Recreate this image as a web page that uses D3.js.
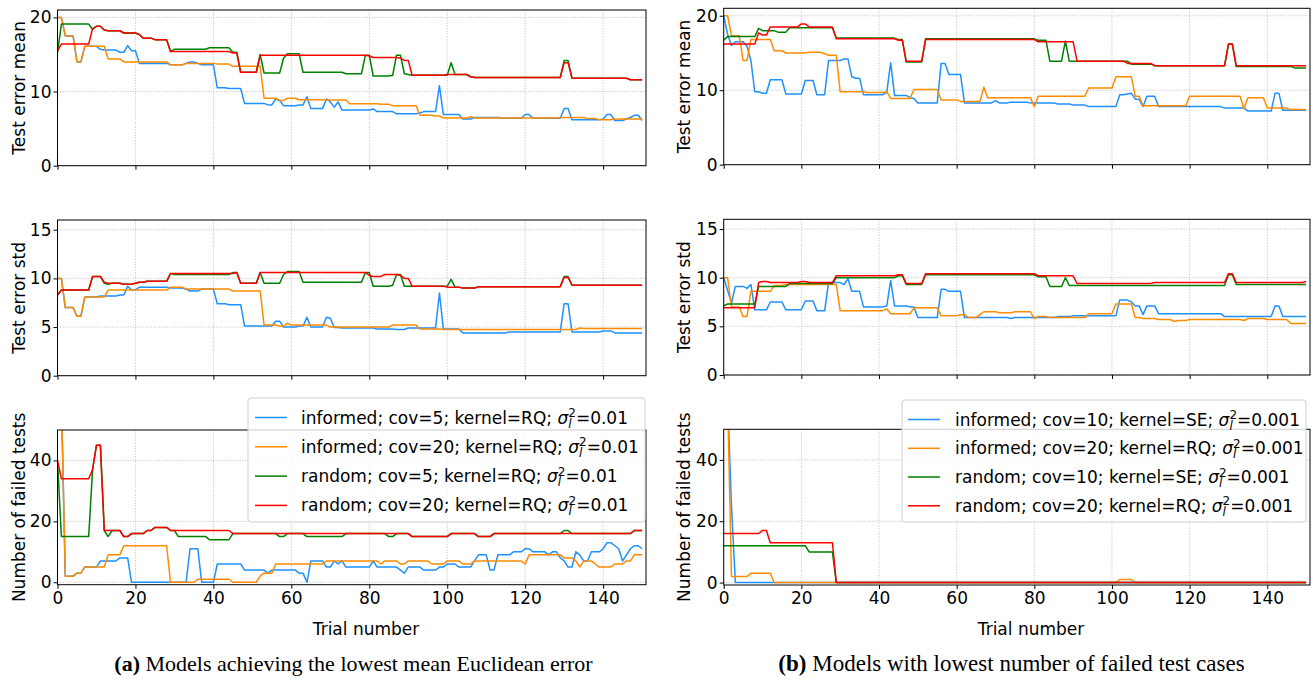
<!DOCTYPE html>
<html>
<head>
<meta charset="utf-8">
<script src="https://cdn.jsdelivr.net/npm/d3@7"></script>
<style>
  html, body { margin: 0; padding: 0; background: #ffffff; }
  svg { display: block; }
</style>
</head>
<body>
<svg id="fig" width="1313" height="681"></svg>
<script>
// ---- shared axes values ----
const xTickValues = [0, 20, 40, 60, 80, 100, 120, 140];
const meanTicks = [0, 10, 20];
const stdTicks = [0, 5, 10, 15];
const failTicks = [0, 20, 40];
const yLabels = ["Test error mean", "Test error std", "Number of failed tests"];

// ---- (a) lowest mean Euclidean error: test error mean per trial ----
const aMeanInf5 = [20,20,17.5,17.5,17.5,14.0,14.0,16.1,16.1,16.1,
16.1,15.7,15.6,15.6,15.6,15.6,15.3,15.3,16.2,15.5,
15.5,13.8,13.8,13.8,13.8,13.8,13.8,13.8,13.8,13.6,
13.6,13.6,13.6,13.8,14.0,14.0,13.8,13.6,13.6,13.6,
13.6,10.5,10.5,10.5,10.4,10.4,10.4,10.4,8.4,8.4,
8.4,8.4,8.4,8.4,8.2,8.2,9.0,8.8,8.1,8.1,
8.1,8.1,8.2,8.2,9.3,7.7,7.7,7.7,7.7,9.0,
8.6,7.9,8.6,7.5,7.5,7.5,7.5,7.5,7.5,7.5,
7.5,7.65,7.3,7.3,7.3,7.3,7.3,7.0,7.0,7.0,
7.0,7.0,7.0,7.1,7.3,7.3,7.3,7.3,10.8,6.9,
6.9,6.9,6.9,6.9,6.3,6.3,6.3,6.5,6.5,6.5,
6.5,6.5,6.5,6.5,6.4,6.4,6.4,6.4,6.4,6.4,
6.9,6.9,6.4,6.4,6.4,6.4,6.4,6.4,6.4,6.4,
7.7,7.7,6.2,6.2,6.2,6.2,6.2,6.2,6.2,6.2,
6.3,6.9,6.9,6.1,6.1,6.1,6.3,6.5,6.8,6.8,
6.1];
const aMeanInf20 = [20,20,17.5,17.5,17.5,14.0,14.0,16.1,16.1,16.1,
16.1,16.1,16.1,14.4,14.4,14.4,14.4,14.0,14.0,14.0,
14.0,14.0,14.0,14.0,14.0,14.0,14.0,14.0,14.0,13.6,
13.6,13.6,13.6,13.8,13.8,13.8,13.8,13.8,13.8,13.8,
13.8,13.7,13.7,13.7,13.7,13.4,13.4,13.4,13.4,13.4,
13.4,13.4,13.4,9.1,9.1,9.1,9.1,8.8,8.8,9.1,
9.1,9.1,8.9,8.9,8.9,8.9,8.9,8.9,8.9,8.9,
8.85,8.85,8.85,8.85,8.85,8.35,8.35,8.35,8.35,8.35,
8.35,8.35,8.35,8.3,8.3,8.3,8.1,8.1,8.1,8.1,
8.1,8.1,8.1,6.8,6.8,6.8,6.8,6.7,6.7,6.45,
6.45,6.45,6.45,6.45,6.45,6.45,6.6,6.45,6.45,6.45,
6.45,6.45,6.45,6.45,6.45,6.45,6.45,6.45,6.45,6.45,
6.45,6.45,6.45,6.45,6.45,6.45,6.45,6.45,6.45,6.5,
6.5,6.5,6.5,6.5,6.5,6.5,6.35,6.35,6.35,6.2,
6.2,6.2,6.2,6.3,6.3,6.3,6.3,6.3,6.3,6.3,
6.3];
const aMeanRand5 = [15.2,19.1,19.1,19.1,19.1,19.1,19.1,19.1,19.1,18.4,
18.8,18.8,18.3,18.2,18.2,18.2,18.2,17.9,17.9,17.9,
17.9,17.7,17.2,17.2,17.2,17.0,17.0,17.0,17.0,15.4,
15.7,15.7,15.7,15.7,15.7,15.7,15.7,15.7,15.7,15.9,
15.9,15.9,15.9,15.9,15.9,15.3,15.3,12.6,12.6,12.6,
12.6,12.6,15.0,12.5,12.5,12.5,12.5,12.5,14.5,15.1,
15.1,15.1,15.1,12.6,12.6,12.6,12.6,12.6,12.6,12.6,
12.6,12.6,12.6,12.6,12.4,12.4,12.4,12.4,12.4,14.9,
14.9,12.1,12.1,12.1,12.1,12.1,12.2,14.9,14.9,12.4,
12.3,12.2,12.2,12.2,12.2,12.2,12.2,12.2,12.2,12.2,
12.2,13.9,12.3,12.3,12.3,12.3,12.0,11.9,11.9,11.9,
11.9,11.9,11.9,11.9,11.9,11.9,11.9,11.9,11.9,11.9,
11.9,11.9,11.9,11.9,11.9,11.9,11.9,11.9,11.9,11.9,
14.2,14.2,11.8,11.8,11.8,11.8,11.8,11.8,11.8,11.8,
11.8,11.8,11.8,11.8,11.8,11.8,11.8,11.6,11.6,11.6,
11.6];
const aMeanRand20 = [15.5,16.4,16.4,16.4,16.4,16.4,16.4,16.4,16.4,18.5,
18.8,18.8,18.3,18.2,18.2,18.2,18.2,17.9,17.9,17.9,
17.9,17.7,17.2,17.2,17.2,17.0,17.0,17.0,17.0,15.4,
15.4,15.4,15.4,15.4,15.4,15.4,15.4,15.4,15.4,15.4,
15.4,15.4,15.4,15.4,15.4,15.2,15.2,12.6,12.6,12.6,
12.6,12.6,14.9,14.9,14.9,14.9,14.9,14.9,14.9,14.9,
14.9,14.9,14.9,14.9,14.9,14.9,14.9,14.9,14.9,14.9,
14.9,14.9,14.9,14.9,14.9,14.9,14.9,14.9,14.9,14.9,
14.8,14.6,14.6,14.6,14.6,14.6,14.6,14.6,14.5,14.2,
14.2,12.2,12.2,12.2,12.2,12.2,12.2,12.2,12.2,12.2,
12.3,12.3,12.3,12.3,12.3,12.3,12.0,11.9,11.9,11.9,
11.9,11.9,11.9,11.9,11.9,11.9,11.9,11.9,11.9,11.9,
11.9,11.9,11.9,11.9,11.9,11.9,11.9,11.9,11.9,11.9,
13.9,13.9,11.8,11.8,11.8,11.8,11.8,11.8,11.8,11.8,
11.8,11.8,11.8,11.8,11.8,11.8,11.8,11.6,11.6,11.6,
11.6];

// ---- (a) test error std per trial ----
const aStdInf5 = [10.0,10.0,7.0,7.0,7.0,6.1,6.1,8.1,8.1,8.1,
8.1,8.2,8.2,8.2,8.2,8.2,8.3,8.3,9.2,8.8,
8.8,9.1,9.1,9.1,9.1,9.1,9.1,9.1,9.1,9.0,
9.0,9.0,9.0,8.9,8.7,8.7,8.7,8.9,8.9,8.9,
8.9,7.4,7.4,7.4,7.3,7.3,7.3,7.3,5.1,5.1,
5.1,5.1,5.1,5.1,5.1,5.1,5.6,5.6,5.0,5.0,
5.0,5.0,5.1,5.1,6.0,5.0,5.0,5.0,5.0,6.0,
5.9,4.95,4.95,4.9,4.9,4.9,4.9,4.9,4.9,4.9,
4.9,4.9,4.8,4.8,4.8,4.8,4.8,4.75,4.75,4.75,
4.9,4.9,4.9,4.9,4.9,4.9,4.9,4.9,8.5,4.8,
4.8,4.8,4.8,4.8,4.4,4.4,4.4,4.4,4.4,4.4,
4.4,4.4,4.4,4.4,4.4,4.4,4.5,4.5,4.5,4.5,
4.5,4.5,4.5,4.5,4.5,4.5,4.5,4.5,4.5,4.5,
7.4,7.4,4.5,4.5,4.5,4.5,4.5,4.5,4.5,4.5,
4.6,4.6,4.6,4.4,4.4,4.4,4.4,4.4,4.4,4.4,
4.4];
const aStdInf20 = [10.0,10.0,7.0,7.0,7.0,6.1,6.1,8.1,8.1,8.1,
8.1,8.1,8.1,8.8,8.8,8.8,8.8,8.8,8.8,8.8,
8.8,8.8,8.8,8.8,8.8,8.8,8.8,8.8,8.8,9.1,
9.1,9.1,9.1,8.9,8.9,8.9,8.9,8.9,8.9,8.9,
8.9,8.9,8.9,8.9,8.9,8.7,8.7,8.7,8.7,8.7,
8.7,8.7,8.7,5.2,5.2,5.2,5.2,5.1,5.1,5.4,
5.2,5.2,5.2,5.2,5.2,5.2,5.2,5.2,5.2,5.2,
5.0,5.0,5.0,5.0,5.0,5.0,5.0,5.0,5.0,5.0,
5.0,5.0,5.0,5.0,5.0,5.0,5.2,5.2,5.2,5.2,
5.2,5.2,5.2,4.8,4.8,4.8,4.8,4.8,4.8,4.75,
4.75,4.75,4.75,4.75,4.75,4.75,4.75,4.75,4.75,4.75,
4.75,4.75,4.75,4.75,4.75,4.75,4.75,4.75,4.75,4.75,
4.75,4.75,4.75,4.75,4.75,4.75,4.75,4.75,4.75,4.75,
4.75,4.75,4.75,4.75,4.9,4.85,4.85,4.85,4.85,4.85,
4.85,4.85,4.85,4.85,4.85,4.85,4.85,4.85,4.85,4.85,
4.85];
const aStdRand5 = [8.3,8.8,8.8,8.8,8.8,8.8,8.8,8.8,8.8,10.2,
10.2,10.2,9.5,9.4,9.5,9.5,9.5,9.4,9.4,9.4,
9.5,9.6,9.6,9.7,9.7,9.7,9.7,9.7,9.7,10.5,
10.4,10.4,10.4,10.4,10.4,10.4,10.4,10.4,10.4,10.4,
10.4,10.4,10.4,10.4,10.4,10.6,10.6,9.5,9.5,9.5,
9.5,9.5,10.6,9.5,9.5,9.5,9.5,9.5,10.4,10.7,
10.7,10.7,10.7,9.6,9.6,9.6,9.6,9.6,9.6,9.6,
9.6,9.6,9.6,9.6,9.6,9.6,9.6,9.6,9.6,10.6,
10.6,9.2,9.2,9.2,9.2,9.2,9.3,10.4,10.4,9.2,
9.2,9.2,9.2,9.2,9.2,9.2,9.2,9.2,9.2,9.2,
9.2,9.9,9.1,9.1,9.0,9.0,9.0,9.0,9.15,9.15,
9.15,9.15,9.15,9.15,9.15,9.15,9.15,9.15,9.15,9.15,
9.15,9.15,9.15,9.15,9.15,9.15,9.15,9.15,9.15,9.15,
10.2,10.2,9.3,9.3,9.3,9.3,9.3,9.3,9.3,9.3,
9.3,9.3,9.3,9.3,9.3,9.3,9.3,9.3,9.3,9.3,
9.3];
const aStdRand20 = [8.3,8.8,8.8,8.8,8.8,8.8,8.8,8.8,8.8,10.2,
10.2,10.2,9.6,9.5,9.5,9.5,9.5,9.4,9.4,9.4,
9.5,9.6,9.6,9.7,9.7,9.7,9.7,9.7,9.7,10.5,
10.5,10.5,10.5,10.5,10.5,10.5,10.5,10.5,10.5,10.5,
10.5,10.5,10.5,10.5,10.5,10.5,10.6,9.5,9.5,9.5,
9.5,9.5,10.6,10.6,10.6,10.6,10.6,10.6,10.6,10.6,
10.6,10.6,10.6,10.6,10.6,10.6,10.6,10.6,10.6,10.6,
10.6,10.6,10.6,10.6,10.6,10.6,10.6,10.6,10.6,10.6,
10.3,10.2,10.2,10.2,10.4,10.4,10.4,10.4,10.3,10.0,
10.0,9.2,9.2,9.2,9.2,9.2,9.2,9.2,9.2,9.2,
9.1,9.1,9.1,9.1,9.0,9.0,9.0,9.0,9.15,9.15,
9.15,9.15,9.15,9.15,9.15,9.15,9.15,9.15,9.15,9.15,
9.15,9.15,9.15,9.15,9.15,9.15,9.15,9.15,9.15,9.15,
10.1,10.1,9.3,9.3,9.3,9.3,9.3,9.3,9.3,9.3,
9.3,9.3,9.3,9.3,9.3,9.3,9.3,9.3,9.3,9.3,
9.3];

// ---- (a) number of failed tests per trial ----
const aFailInf5 = [60,60,2,2,2,3,3,5,5,5,
5,7,7,7,7,7,8,8,8,0,
0,0,0,0,0,0,0,0,0,0,
0,0,0,0,11,11,11,0,0,0,
0,6,6,6,6,6,6,6,4,4,
4,4,4,4,3,4,4,4,4,4,
4,4,3,3,0,7,7,7,7,5,
5,7,6,7,5,5,5,5,5,5,
5,7,5,5,5,5,5,5,4,3,
5,5,5,5,4,4,4,4,5,5,
6,6,6,5,5,5,5,7,9,9,
9,4,4,9,9,9,9,10,10,10,
11,11,10,10,10,10,9,10,10,8,
7,5,5,10,9,7,7,10,10,10,
11,13,13,12,11,7,9,11,12,12,
11];
const aFailInf20 = [60,60,2,2,2,3,3,5,5,5,
5,5,5,9,9,9,9,12,12,12,
12,12,12,12,12,12,12,12,12,0,
0,0,0,0,0,0,1,1,1,1,
1,1,1,1,1,0,0,0,0,0,
0,0,2,3,3,3,6,6,6,6,
6,6,6,6,6,6,6,6,6,7,
7,7,7,7,7,7,7,7,7,7,
7,7,7,6,7,7,7,7,6,6,
7,7,7,7,7,7,6,6,6,6,
7,7,7,7,6,6,6,7,7,7,
7,7,7,7,7,7,7,7,7,7,
6,9,9,9,9,9,9,9,9,9,
8,8,8,7,5,7,7,7,6,5,
5,5,5,6,6,6,7,7,9,9,
9];
const aFailRand5 = [40,15,15,15,15,15,15,15,15,37,
45,45,17,15,17,17,17,15,15,16,
16,16,16,17,17,18,18,18,18,17,
17,15,15,15,15,15,15,15,15,14,
14,14,14,14,14,16,16,16,16,16,
16,16,16,16,16,16,16,15,15,16,
16,16,16,16,15,15,15,15,15,15,
15,15,15,15,16,16,16,16,16,16,
16,16,16,16,16,15,15,16,16,16,
16,15,15,15,15,15,15,15,15,15,
15,16,16,16,16,16,16,16,15,15,
15,15,16,16,16,16,16,16,16,16,
16,16,16,16,16,16,16,16,16,16,
17,17,16,16,16,16,16,16,16,16,
16,16,16,16,16,16,16,16,17,17,
17];
const aFailRand20 = [40,34,34,34,34,34,34,34,34,37,
45,45,17,17,17,17,17,15,15,16,
16,16,16,17,17,18,18,18,18,17,
17,17,17,17,17,17,17,17,17,17,
17,17,17,17,17,16,16,16,16,16,
16,16,16,16,16,16,16,16,16,16,
16,16,16,16,16,16,16,16,16,16,
16,16,16,16,16,16,16,16,16,16,
16,16,16,16,16,16,16,16,16,16,
16,15,15,15,15,15,15,15,15,15,
15,16,16,16,16,16,16,16,15,15,
15,15,16,16,16,16,16,16,16,16,
16,16,16,16,16,16,16,16,16,16,
16,16,16,16,16,16,16,16,16,16,
16,16,16,16,16,16,16,16,17,17,
17];

// ---- (b) lowest number of failed test cases: test error mean ----
const bMeanInf10 = [20,17.5,16.0,16.5,16.5,16.5,15.9,14.0,9.8,9.8,
9.6,9.6,11.4,11.4,11.4,11.4,9.5,9.5,9.5,9.5,
9.5,11.3,11.3,11.3,9.4,9.4,9.4,14.0,14.0,14.0,
14.0,14.2,14.2,11.8,11.6,11.6,9.4,9.4,9.4,9.4,
9.4,9.4,9.7,13.7,9.3,9.3,9.3,9.3,9.0,8.9,
8.3,8.3,8.3,8.3,8.3,8.3,13.6,13.6,12.1,12.1,
12.1,12.1,8.3,8.3,8.3,8.3,8.3,8.3,8.3,8.3,
8.6,8.3,8.3,8.3,8.4,8.4,8.4,8.4,8.4,8.3,
8.3,8.3,8.3,8.3,8.3,8.3,8.15,8.15,8.15,8.15,
8.0,8.0,8.0,8.0,7.8,7.8,7.8,7.8,7.8,7.8,
7.8,7.8,9.4,9.4,9.5,9.6,8.8,8.8,7.8,9.2,
9.2,9.2,7.8,7.8,7.8,7.8,7.8,7.8,7.8,7.8,
7.8,7.8,7.8,7.8,7.8,7.8,7.8,7.8,7.8,7.6,
7.6,7.6,7.6,7.6,7.6,7.2,7.2,7.2,7.2,7.2,
7.2,7.2,9.6,9.6,7.3,7.3,7.3,7.3,7.3,7.3,
7.3];
const bMeanInf20 = [20,20,17.3,17.3,17.3,14.0,14.0,16.8,16.8,16.8,
16.8,16.8,16.8,15.3,15.3,15.3,15.0,15.0,15.0,15.0,
15.0,15.0,15.1,15.1,15.1,15.1,14.9,14.7,14.7,14.7,
9.8,9.8,9.8,9.8,9.8,9.8,9.8,9.7,9.7,9.7,
9.7,9.7,9.8,8.9,8.9,8.9,8.9,8.9,8.9,10.1,
10.1,10.1,10.1,10.1,10.1,10.1,8.7,8.7,8.7,8.7,
8.7,8.5,8.5,8.5,8.5,8.5,8.5,10.4,9.0,9.0,
9.0,9.0,9.0,9.0,9.0,9.0,9.0,9.0,9.0,9.0,
7.8,9.2,9.2,9.2,9.2,9.2,9.2,9.2,9.2,9.2,
9.2,9.2,9.2,9.2,10.3,10.3,10.3,10.3,10.3,10.3,
10.3,11.8,11.8,11.8,11.8,11.8,9.2,9.2,7.9,7.9,
7.9,7.9,7.9,7.9,7.9,7.9,7.9,7.9,7.9,7.9,
9.2,9.2,9.2,9.2,9.2,9.2,9.2,9.2,9.2,9.2,
9.2,9.2,9.2,9.2,7.5,9.0,9.0,9.0,9.0,9.0,
7.6,7.6,7.6,7.6,7.6,7.6,7.4,7.4,7.4,7.4,
7.4];
const bMeanRand10 = [16.7,17.2,17.2,17.2,17.2,17.2,17.2,17.2,17.2,18.3,
18.0,18.0,18.0,18.0,17.8,17.8,17.8,18.4,18.4,18.4,
18.4,18.4,18.4,18.4,18.4,18.4,18.4,18.4,18.4,17.0,
17.0,17.0,17.0,17.0,17.0,17.0,17.0,17.0,17.0,17.0,
17.0,17.0,17.0,17.0,17.0,16.8,16.8,13.8,13.8,13.8,
13.8,13.8,16.9,16.9,16.9,16.9,16.9,16.9,16.9,16.9,
16.9,16.9,16.9,16.9,16.9,16.9,16.9,16.9,16.9,16.9,
16.9,16.9,16.9,16.9,16.9,16.9,16.9,16.9,16.9,16.9,
16.9,16.7,16.7,16.7,13.9,13.9,13.9,13.9,16.6,13.9,
13.9,13.9,13.9,13.9,13.9,13.9,13.9,13.9,13.9,13.9,
13.9,13.9,13.9,13.9,13.9,13.5,13.5,13.5,13.5,13.5,
13.5,13.3,13.3,13.3,13.3,13.3,13.3,13.3,13.3,13.3,
13.3,13.3,13.3,13.3,13.3,13.3,13.3,13.3,13.3,13.3,
16.2,16.2,13.2,13.2,13.2,13.2,13.2,13.2,13.2,13.2,
13.2,13.2,13.2,13.2,13.2,13.2,13.2,13.0,13.0,13.0,
13.0];
const bMeanRand20 = [16.2,16.2,16.2,16.2,16.2,16.2,16.2,16.2,16.2,17.7,
17.4,17.4,18.5,18.5,18.5,18.5,18.5,18.5,18.5,18.5,
18.9,18.9,18.5,18.5,18.5,18.5,18.5,18.5,18.5,16.9,
16.9,16.9,16.9,16.9,16.9,16.9,16.9,16.9,16.9,16.9,
16.9,16.9,16.9,16.9,16.9,16.7,16.7,13.9,13.9,13.9,
13.9,13.9,16.8,16.8,16.8,16.8,16.8,16.8,16.8,16.8,
16.8,16.8,16.8,16.8,16.8,16.8,16.8,16.8,16.8,16.8,
16.8,16.8,16.8,16.8,16.8,16.8,16.8,16.8,16.8,16.8,
16.8,16.5,16.5,16.5,16.5,16.5,16.5,16.5,16.5,16.5,
16.5,13.9,13.9,13.9,13.9,13.9,13.9,13.9,13.9,13.9,
13.9,13.9,13.9,13.9,13.6,13.6,13.6,13.6,13.6,13.6,
13.6,13.3,13.3,13.3,13.3,13.3,13.3,13.3,13.3,13.3,
13.3,13.3,13.3,13.3,13.3,13.3,13.3,13.3,13.3,13.3,
16.2,16.2,13.3,13.3,13.3,13.3,13.3,13.3,13.3,13.3,
13.3,13.3,13.3,13.3,13.3,13.3,13.3,13.3,13.3,13.3,
13.3];

// ---- (b) test error std per trial ----
const bStdInf10 = [10.0,8.7,7.4,9.1,9.1,9.1,8.9,9.3,6.7,6.7,
6.7,6.7,7.5,7.5,7.5,7.5,6.7,6.7,6.7,6.7,
6.7,7.6,7.6,7.6,6.6,6.6,6.6,9.5,9.5,9.5,
9.5,9.3,9.9,8.6,8.6,8.6,7.0,7.0,7.0,7.0,
7.0,7.0,7.1,9.7,7.1,7.1,7.1,7.1,7.0,7.0,
5.9,5.9,5.9,5.9,5.9,5.9,8.8,8.8,8.6,8.6,
8.6,8.6,5.9,5.9,5.9,5.9,5.9,5.9,5.9,5.9,
5.9,5.9,5.9,5.9,5.8,5.9,5.9,5.9,5.9,5.9,
5.9,5.9,5.9,5.9,5.9,5.9,6.0,6.0,6.0,6.0,
6.1,6.1,6.1,6.1,6.1,6.1,6.1,6.1,6.1,6.1,
6.1,6.1,7.7,7.7,7.7,7.5,7.1,7.1,6.2,7.1,
7.1,7.1,6.3,6.3,6.3,6.3,6.3,6.3,6.3,6.3,
6.3,6.3,6.3,6.3,6.3,6.3,6.3,6.3,6.3,6.0,
6.0,6.0,6.0,6.0,6.0,6.0,6.0,6.0,6.0,6.0,
6.0,6.0,7.1,7.1,6.0,6.0,6.0,6.0,6.0,6.0,
6.0];
const bStdInf20 = [10.0,10.0,7.0,7.0,7.0,6.0,6.0,8.6,8.6,8.6,
8.6,8.6,8.6,9.2,9.2,9.2,9.3,9.3,9.3,9.3,
9.3,9.3,9.3,9.3,9.3,9.3,9.3,9.3,9.3,9.3,
6.6,6.6,6.6,6.6,6.6,6.6,6.6,6.6,6.6,6.6,
6.6,6.6,6.8,6.3,6.3,6.3,6.3,6.3,6.3,6.9,
6.9,6.9,6.9,6.9,6.9,6.9,6.1,6.1,6.1,6.1,
6.1,6.2,6.2,5.9,5.9,5.9,6.2,6.5,6.5,6.5,
6.5,6.4,6.4,6.4,6.4,6.5,6.5,6.5,6.5,6.5,
5.8,6.0,6.0,6.0,5.9,5.9,5.9,5.9,5.9,5.9,
5.9,5.9,5.9,5.9,6.3,6.3,6.3,6.3,6.3,6.3,
6.3,7.3,7.3,7.3,7.3,7.3,5.9,5.9,5.8,5.8,
5.8,5.8,5.7,5.7,5.7,5.7,5.5,5.6,5.6,5.6,
5.7,5.7,5.7,5.7,5.7,5.7,5.7,5.7,5.7,5.7,
5.7,5.7,5.7,5.7,5.6,5.8,5.8,5.8,5.8,5.8,
5.7,5.7,5.7,5.7,5.7,5.7,5.3,5.3,5.3,5.3,
5.3];
const bStdRand10 = [7.1,7.3,7.3,7.3,7.3,7.3,7.3,7.3,7.3,9.1,
9.1,9.1,9.1,9.1,9.1,9.1,9.1,9.4,9.4,9.4,
9.4,9.4,9.4,9.4,9.4,9.4,9.4,9.4,9.4,10.0,
10.0,10.0,10.0,10.0,10.0,10.0,10.0,10.0,10.0,10.0,
10.0,10.0,10.0,10.0,10.0,10.2,10.2,9.3,9.3,9.3,
9.3,9.3,10.3,10.3,10.3,10.3,10.3,10.3,10.3,10.3,
10.3,10.3,10.3,10.3,10.3,10.3,10.3,10.3,10.3,10.3,
10.3,10.3,10.3,10.3,10.3,10.3,10.3,10.3,10.3,10.3,
10.3,10.1,10.1,10.1,9.1,9.1,9.1,9.1,10.0,9.2,
9.2,9.2,9.2,9.2,9.2,9.2,9.2,9.2,9.2,9.2,
9.2,9.2,9.2,9.2,9.2,9.2,9.2,9.2,9.2,9.2,
9.2,9.2,9.2,9.2,9.2,9.2,9.2,9.2,9.2,9.2,
9.2,9.2,9.2,9.2,9.2,9.2,9.2,9.2,9.2,9.2,
10.3,10.3,9.3,9.3,9.3,9.3,9.3,9.3,9.3,9.3,
9.3,9.3,9.3,9.3,9.3,9.3,9.3,9.3,9.3,9.3,
9.3];
const bStdRand20 = [6.9,6.9,6.9,6.9,6.9,6.9,6.9,6.9,6.9,9.5,
9.6,9.6,9.5,9.5,9.5,9.5,9.5,9.5,9.5,9.5,
9.6,9.6,9.5,9.5,9.5,9.5,9.5,9.5,9.5,10.2,
10.2,10.2,10.2,10.2,10.2,10.2,10.2,10.2,10.2,10.2,
10.2,10.2,10.2,10.2,10.2,10.3,10.3,9.4,9.4,9.4,
9.4,9.4,10.4,10.4,10.4,10.4,10.4,10.4,10.4,10.4,
10.4,10.4,10.4,10.4,10.4,10.4,10.4,10.4,10.4,10.4,
10.4,10.4,10.4,10.4,10.4,10.4,10.4,10.4,10.4,10.4,
10.4,10.2,10.2,10.2,10.2,10.2,10.2,10.2,10.2,10.2,
10.2,9.4,9.4,9.4,9.4,9.4,9.4,9.4,9.4,9.4,
9.4,9.4,9.4,9.4,9.4,9.4,9.4,9.4,9.4,9.4,
9.4,9.5,9.5,9.5,9.5,9.5,9.5,9.5,9.5,9.5,
9.5,9.5,9.5,9.5,9.5,9.5,9.5,9.5,9.5,9.5,
10.4,10.4,9.5,9.5,9.5,9.5,9.5,9.5,9.5,9.5,
9.5,9.5,9.5,9.5,9.5,9.5,9.5,9.5,9.5,9.5,
9.6];

// ---- (b) number of failed tests per trial ----
const bFailInf10 = [60,60,25,0,0,0,0,0,0,0,
0,0,0,0,0,0,0,0,0,0,
0,0,0,0,0,0,0,0,0,0,
0,0,0,0,0,0,0,0,0,0,
0,0,0,0,0,0,0,0,0,0,
0,0,0,0,0,0,0,0,0,0,
0,0,0,0,0,0,0,0,0,0,
0,0,0,0,0,0,0,0,0,0,
0,0,0,0,0,0,0,0,0,0,
0,0,0,0,0,0,0,0,0,0,
0,0,0,0,0,0,0,0,0,0,
0,0,0,0,0,0,0,0,0,0,
0,0,0,0,0,0,0,0,0,0,
0,0,0,0,0,0,0,0,0,0,
0,0,0,0,0,0,0,0,0,0,
0];
const bFailInf20 = [60,60,2,2,2,2,2,3,3,3,
3,3,3,0,0,0,0,0,0,0,
0,0,0,0,0,0,0,0,0,0,
0,0,0,0,0,0,0,0,0,0,
0,0,0,0,0,0,0,0,0,0,
0,0,0,0,0,0,0,0,0,0,
0,0,0,0,0,0,0,0,0,0,
0,0,0,0,0,0,0,0,0,0,
0,0,0,0,0,0,0,0,0,0,
0,0,0,0,0,0,0,0,0,0,
0,0,1,1,1,1,0,0,0,0,
0,0,0,0,0,0,0,0,0,0,
0,0,0,0,0,0,0,0,0,0,
0,0,0,0,0,0,0,0,0,0,
0,0,0,0,0,0,0,0,0,0,
0];
const bFailRand10 = [12,12,12,12,12,12,12,12,12,12,
12,12,12,12,12,12,12,12,12,12,
12,12,10,10,10,10,10,10,10,0,
0,0,0,0,0,0,0,0,0,0,
0,0,0,0,0,0,0,0,0,0,
0,0,0,0,0,0,0,0,0,0,
0,0,0,0,0,0,0,0,0,0,
0,0,0,0,0,0,0,0,0,0,
0,0,0,0,0,0,0,0,0,0,
0,0,0,0,0,0,0,0,0,0,
0,0,0,0,0,0,0,0,0,0,
0,0,0,0,0,0,0,0,0,0,
0,0,0,0,0,0,0,0,0,0,
0,0,0,0,0,0,0,0,0,0,
0,0,0,0,0,0,0,0,0,0,
0];
const bFailRand20 = [16,16,16,16,16,16,16,16,16,16,
17,17,13,13,13,13,13,13,13,13,
13,13,13,13,13,13,13,13,13,0,
0,0,0,0,0,0,0,0,0,0,
0,0,0,0,0,0,0,0,0,0,
0,0,0,0,0,0,0,0,0,0,
0,0,0,0,0,0,0,0,0,0,
0,0,0,0,0,0,0,0,0,0,
0,0,0,0,0,0,0,0,0,0,
0,0,0,0,0,0,0,0,0,0,
0,0,0,0,0,0,0,0,0,0,
0,0,0,0,0,0,0,0,0,0,
0,0,0,0,0,0,0,0,0,0,
0,0,0,0,0,0,0,0,0,0,
0,0,0,0,0,0,0,0,0,0,
0];

// ---- legend entries ----
const aLegendPrefix = ["informed; cov=5; kernel=RQ; ", "informed; cov=20; kernel=RQ; ",
                       "random; cov=5; kernel=RQ; ", "random; cov=20; kernel=RQ; "];
const bLegendPrefix = ["informed; cov=10; kernel=SE; ", "informed; cov=20; kernel=RQ; ",
                       "random; cov=10; kernel=SE; ", "random; cov=20; kernel=RQ; "];
const aNoise = "=0.01";
const bNoise = "=0.001";
const lineColors = ["#1e90ff", "#ff8c00", "#008000", "#ff0000"];

// ---- layout ----
const FONT = "DejaVu Sans";
const FS = 17;
const svg = d3.select("#fig");

const columns = [
  {
    x0: 57.5, x1: 646,
    rows: [[10, 165.7], [220, 375.7], [430, 584.7]],
    yLabelX: 25,
    data: [[aMeanInf5, aMeanInf20, aMeanRand5, aMeanRand20],
           [aStdInf5, aStdInf20, aStdRand5, aStdRand20],
           [aFailInf5, aFailInf20, aFailRand5, aFailRand20]],
    legend: { prefix: aLegendPrefix, noise: aNoise, box: [248, 398, 645, 522], handle: [255, 287], textX: 301, rowY: [417.5, 446.8, 476.1, 505.4] },
    xLabelX: 366,
    caption: { x: 353.5, size: 22, tag: "(a)", text: " Models achieving the lowest mean Euclidean error" }
  },
  {
    x0: 723.7, x1: 1310,
    rows: [[8.3, 164.7], [219.3, 375], [429.3, 585]],
    yLabelX: 690,
    data: [[bMeanInf10, bMeanInf20, bMeanRand10, bMeanRand20],
           [bStdInf10, bStdInf20, bStdRand10, bStdRand20],
           [bFailInf10, bFailInf20, bFailRand10, bFailRand20]],
    legend: { prefix: bLegendPrefix, noise: bNoise, box: [902, 400, 1306, 522], handle: [908, 940], textX: 955, rowY: [419.5, 448.3, 477, 505.8] },
    xLabelX: 1031,
    caption: { x: 1011.5, size: 23, tag: "(b)", text: " Models with lowest number of failed test cases" }
  }
];
const rowDomains = [[0, 21], [0, 16], [-0.8, 50]];
const rowTicks = [meanTicks, stdTicks, failTicks];

let clipId = 0;
columns.forEach(col => {
  const x = d3.scaleLinear().domain([0, 151]).range([col.x0, col.x1]);

  col.rows.forEach(([top, bottom], r) => {
    const y = d3.scaleLinear().domain(rowDomains[r]).range([bottom, top]);
    const g = svg.append("g");

    // dotted grid
    g.append("g").selectAll("line").data(xTickValues).join("line")
      .attr("x1", d => x(d)).attr("x2", d => x(d))
      .attr("y1", top).attr("y2", bottom)
      .attr("stroke", "#b0b0b0").attr("stroke-width", 0.8)
      .attr("stroke-dasharray", "1,1.6");
    g.append("g").selectAll("line").data(rowTicks[r]).join("line")
      .attr("x1", col.x0).attr("x2", col.x1)
      .attr("y1", d => y(d)).attr("y2", d => y(d))
      .attr("stroke", "#b0b0b0").attr("stroke-width", 0.8)
      .attr("stroke-dasharray", "1,1.6");

    // series lines, clipped to the axes box
    const id = "clip" + (clipId++);
    svg.append("clipPath").attr("id", id).append("rect")
      .attr("x", col.x0).attr("y", top)
      .attr("width", col.x1 - col.x0).attr("height", bottom - top);
    const line = d3.line().x((d, i) => x(i)).y(d => y(d));
    const lg = g.append("g").attr("clip-path", `url(#${id})`);
    col.data[r].forEach((vals, s) => {
      lg.append("path").datum(vals)
        .attr("d", line)
        .attr("fill", "none")
        .attr("stroke", lineColors[s])
        .attr("stroke-width", 1.5)
        .attr("stroke-linejoin", "round");
    });

    // frame
    g.append("rect")
      .attr("x", col.x0).attr("y", top)
      .attr("width", col.x1 - col.x0).attr("height", bottom - top)
      .attr("fill", "none").attr("stroke", "#000").attr("stroke-width", 1);

    // axes
    const xAxis = d3.axisBottom(x).tickValues(xTickValues).tickSize(4).tickPadding(3)
      .tickFormat(r === 2 ? d3.format("d") : () => "");
    const xg = g.append("g").attr("transform", `translate(0,${bottom})`).call(xAxis);
    const yAxis = d3.axisLeft(y).tickValues(rowTicks[r]).tickSize(4).tickPadding(2)
      .tickFormat(d3.format("d"));
    const yg = g.append("g").attr("transform", `translate(${col.x0},0)`).call(yAxis);
    [xg, yg].forEach(a => {
      a.select(".domain").remove();
      a.attr("font-family", FONT).attr("font-size", FS);
      a.selectAll(".tick line").attr("stroke", "#000").attr("stroke-width", 1);
      a.selectAll(".tick text").attr("fill", "#000");
    });

    // y label
    svg.append("text")
      .attr("transform", `translate(${col.yLabelX},${(top + bottom) / 2}) rotate(-90)`)
      .attr("text-anchor", "middle")
      .attr("font-family", FONT).attr("font-size", FS)
      .text(yLabels[r]);
  });

  // x label
  svg.append("text")
    .attr("x", col.xLabelX).attr("y", 635)
    .attr("text-anchor", "middle")
    .attr("font-family", FONT).attr("font-size", FS)
    .text("Trial number");

  // legend
  const L = col.legend;
  const lg = svg.append("g");
  lg.append("rect")
    .attr("x", L.box[0]).attr("y", L.box[1])
    .attr("width", L.box[2] - L.box[0]).attr("height", L.box[3] - L.box[1])
    .attr("rx", 3).attr("fill", "#fff").attr("fill-opacity", 0.8)
    .attr("stroke", "#d0d0d0").attr("stroke-width", 1);
  L.prefix.forEach((p, i) => {
    const cy = L.rowY[i];
    lg.append("line")
      .attr("x1", L.handle[0]).attr("x2", L.handle[1])
      .attr("y1", cy).attr("y2", cy)
      .attr("stroke", lineColors[i]).attr("stroke-width", 1.5);
    const t = lg.append("text")
      .attr("x", L.textX).attr("y", cy + 6)
      .attr("font-family", FONT).attr("font-size", FS);
    t.append("tspan").text(p);
    t.append("tspan").attr("font-style", "italic").text("σ");
    t.append("tspan").attr("font-style", "italic").attr("font-size", 12).attr("dy", 4).text("l");
    t.append("tspan").attr("font-size", 12).attr("dx", -3.3).attr("dy", -10.5).text("2");
    t.append("tspan").attr("dy", 6.5).text(L.noise);
  });

  // caption
  const cap = svg.append("text")
    .attr("x", col.caption.x).attr("y", 671)
    .attr("text-anchor", "middle")
    .attr("font-family", "Liberation Serif").attr("font-size", col.caption.size);
  cap.append("tspan").attr("font-weight", "bold").text(col.caption.tag);
  cap.append("tspan").text(col.caption.text);
});

// sanity check on series lengths
columns.forEach(col => col.data.forEach(row => row.forEach((v, k) => {
  if (v.length !== 151) throw new Error("series length " + v.length + " in row, index " + k);
})));
</script>
</body>
</html>
